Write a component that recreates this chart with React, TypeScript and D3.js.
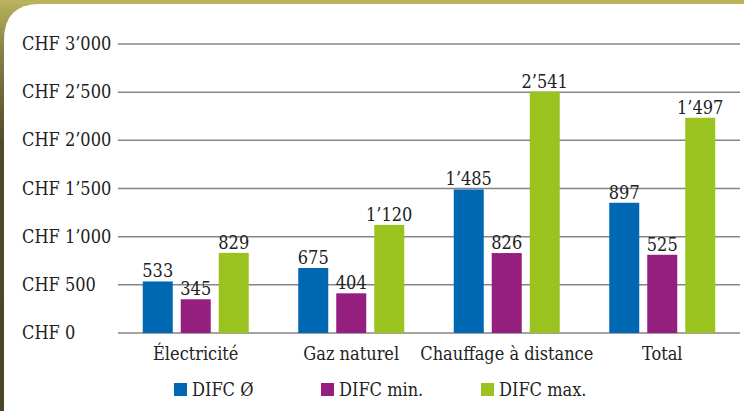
import React from "react";
import * as d3 from "d3";

const categories = ["Électricité", "Gaz naturel", "Chauffage à distance", "Total"];
const seriesNames = ["DIFC Ø", "DIFC min.", "DIFC max."];
const seriesColors = ["#0068b2", "#951f7f", "#9bc31f"];
// bar heights as drawn in the picture
const avgHeights = [535, 675, 1490, 1352];
const minHeights = [350, 412, 830, 812];
const maxHeights = [832, 1122, 2505, 2234];
// labels printed above the bars
const avgLabels = ["533", "675", "1’485", "897"];
const minLabels = ["345", "404", "826", "525"];
const maxLabels = ["829", "1’120", "2’541", "1’497"];
const yTicks = [0, 500, 1000, 1500, 2000, 2500, 3000];
const yTickLabels = ["CHF 0", "CHF 500", "CHF 1’000", "CHF 1’500", "CHF 2’000", "CHF 2’500", "CHF 3’000"];

const W = 744, H = 411;
const FONT = "'DejaVu Serif Condensed', 'DejaVu Serif', serif";
const FS = 18;

export default function App() {
  const x0 = d3.scaleBand<string>().domain(categories).range([118, 740]);
  const GW = 106;
  const x1 = d3.scaleBand<string>().domain(seriesNames).range([0, GW]).paddingInner(8 / 38);
  const y = d3.scaleLinear().domain([0, 3000]).range([333, 44]);
  const heights = [avgHeights, minHeights, maxHeights];
  const labels = [avgLabels, minLabels, maxLabels];
  const groupOffset = (x0.bandwidth() - GW) / 2;
  const legendX = [174, 321, 481];

  return (
    <svg width={W} height={H} style={{ position: "absolute", left: 0, top: 0 }}>
      <defs>
        <linearGradient id="lg" x1="0" y1="0" x2="0" y2="1">
          <stop offset="0" stopColor="#bbb35c" />
          <stop offset="0.12" stopColor="#8a8248" />
          <stop offset="0.35" stopColor="#4f4a2a" />
          <stop offset="1" stopColor="#4a4527" />
        </linearGradient>
      </defs>
      <rect x={0} y={0} width={W} height={H} fill="url(#lg)" />
      <rect x={0} y={0} width={W} height={4} fill="#bbb35c" />
      <path d={`M4,${H} L4,40 Q4,4 40,4 L${W},4 L${W},${H} Z`} fill="#ffffff" />
      {yTicks.map((t, i) => (
        <g key={t}>
          <line x1={118} x2={740} y1={y(t)} y2={y(t)} stroke="#858585" strokeWidth={1.5} />
          <text x={22} y={y(t) + 6} fontFamily={FONT} fontSize={FS} fill="#222">{yTickLabels[i]}</text>
        </g>
      ))}
      {categories.map((c, ci) => (
        <g key={c} transform={`translate(${(x0(c) as number) + groupOffset},0)`}>
          {seriesNames.map((s, si) => {
            const v = heights[si][ci];
            const bx = x1(s) as number;
            return (
              <g key={s}>
                <rect x={bx} y={y(v)} width={x1.bandwidth()} height={y(0) - y(v)} fill={seriesColors[si]} />
                <text x={bx + x1.bandwidth() / 2} y={y(v) - 4} textAnchor="middle" fontFamily={FONT} fontSize={FS} fill="#222">{labels[si][ci]}</text>
              </g>
            );
          })}
          <text x={GW / 2} y={360} textAnchor="middle" fontFamily={FONT} fontSize={FS} fill="#222">{c}</text>
        </g>
      ))}
      {seriesNames.map((s, i) => (
        <g key={s}>
          <rect x={legendX[i]} y={383} width={13} height={13} fill={seriesColors[i]} />
          <text x={legendX[i] + 18} y={396} fontFamily={FONT} fontSize={FS} fill="#222">{s}</text>
        </g>
      ))}
    </svg>
  );
}
